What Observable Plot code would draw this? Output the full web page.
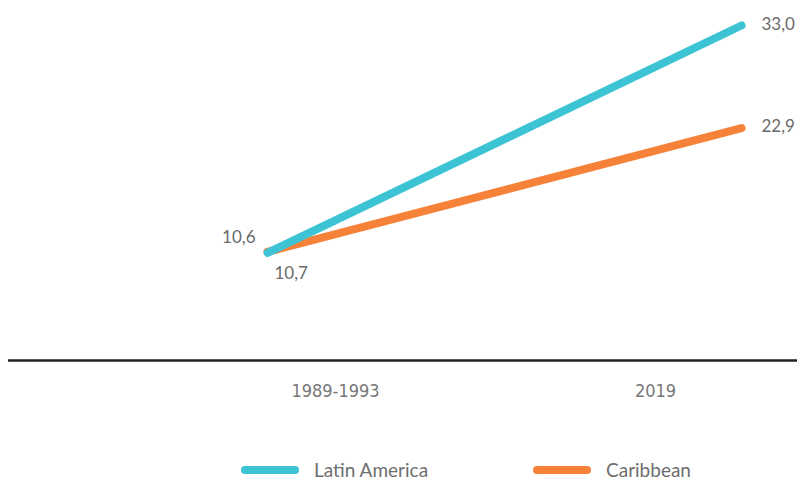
<!DOCTYPE html>
<html>
<head>
<meta charset="utf-8">
<script src="https://cdn.jsdelivr.net/npm/d3@7"></script>
<script src="https://cdn.jsdelivr.net/npm/@observablehq/plot@0.6"></script>
<style>
  body { margin: 0; background: #fff; font-family: Lato, "Open Sans", sans-serif; }
  #legend { height: 23px; margin-top: 13px; position: relative; }
  .item { position: absolute; top: 0; height: 23px; line-height: 23px; display: flex; align-items: center; font-size: 19px; color: #6e6e6e; }
  .sw { width: 58px; height: 8px; border-radius: 4px; margin-right: 15px; }
</style>
</head>
<body>
<div id="chart"></div>
<div id="legend"></div>
<script>
const periods = ["1989-1993", "2019"];
const seriesNames = ["Latin America", "Caribbean"];
const latinAmerica = [10.6, 33.0];
const caribbean = [10.7, 22.9];
const colors = ["#3cc3d4", "#f6823a"];

const rows = [];
periods.forEach((p, i) => {
  rows.push({period: p, series: seriesNames[1], value: caribbean[i]});
  rows.push({period: p, series: seriesNames[0], value: latinAmerica[i]});
});
const fmt = v => v.toFixed(1).replace(".", ",");

const lblStyle = {fill: "#6a6a6a", fontSize: 17, fontFamily: "Lato, 'Open Sans', sans-serif"};
const catStyle = {fill: "#777", fontSize: 18, fontFamily: "'Liberation Sans Narrow', 'DejaVu Sans Condensed', sans-serif"};

const chart = Plot.plot({
  width: 797,
  height: 445,
  marginLeft: 8,
  marginRight: 0,
  marginTop: 25,
  marginBottom: 85,
  x: {type: "point", domain: periods, range: [267, 741], padding: 0, axis: null},
  y: {domain: [0, 33], axis: null},
  color: {domain: seriesNames, range: colors},
  marks: [
    Plot.ruleY([0], {stroke: "#222", strokeWidth: 2.5}),
    Plot.line(rows, {x: "period", y: "value", z: "series", stroke: "series", strokeWidth: 8, strokeLinecap: "round"}),
    // start labels
    Plot.text(rows.filter(d => d.period === periods[0] && d.series === seriesNames[0]),
      {x: "period", y: "value", text: d => fmt(d.value), textAnchor: "end", dx: -12, dy: -15, ...lblStyle}),
    Plot.text(rows.filter(d => d.period === periods[0] && d.series === seriesNames[1]),
      {x: "period", y: "value", text: d => fmt(d.value), textAnchor: "start", dx: 7, dy: 22, ...lblStyle}),
    // end labels
    Plot.text(rows.filter(d => d.period === periods[1]),
      {x: "period", y: "value", text: d => fmt(d.value), textAnchor: "start", dx: 20, dy: -1, ...lblStyle}),
    // category labels
    Plot.text([periods[0]], {x: d => d, y: () => 0, text: d => d, dx: 68, dy: 31, ...catStyle}),
    Plot.text([periods[1]], {x: d => d, y: () => 0, text: d => d, dx: -86, dy: 31, ...catStyle})
  ]
});
document.getElementById("chart").appendChild(chart);

const legend = document.getElementById("legend");
const lefts = [241, 533];
seriesNames.forEach((s, i) => {
  const it = document.createElement("div");
  it.className = "item";
  it.style.left = lefts[i] + "px";
  it.innerHTML = `<span class="sw" style="background:${colors[i]}"></span><span>${s}</span>`;
  legend.appendChild(it);
});
</script>
</body>
</html>
